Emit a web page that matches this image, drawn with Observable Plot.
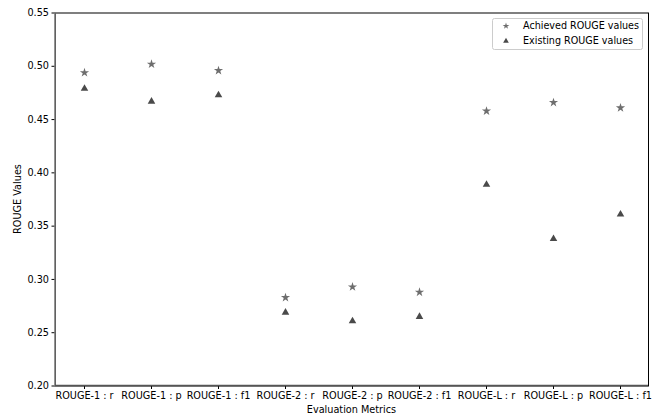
<!DOCTYPE html>
<html>
<head>
<meta charset="utf-8">
<script src="https://cdn.jsdelivr.net/npm/d3@7"></script>
<script src="https://cdn.jsdelivr.net/npm/@observablehq/plot@0.6"></script>
<style>
  html, body { margin: 0; padding: 0; background: white; }
  #chart { width: 652px; height: 417px; }
</style>
</head>
<body>
<div id="chart"></div>
<script>
const categories = ["ROUGE-1 : r", "ROUGE-1 : p", "ROUGE-1 : f1", "ROUGE-2 : r", "ROUGE-2 : p", "ROUGE-2 : f1", "ROUGE-L : r", "ROUGE-L : p", "ROUGE-L : f1"];
const achieved = [0.494, 0.502, 0.496, 0.283, 0.293, 0.288, 0.458, 0.466, 0.461];
const existing = [0.479, 0.467, 0.473, 0.269, 0.261, 0.265, 0.389, 0.338, 0.361];
const yTicks = [0.20, 0.25, 0.30, 0.35, 0.40, 0.45, 0.50, 0.55];
const seriesNames = ["Achieved ROUGE values", "Existing ROUGE values"];
const xLabel = "Evaluation Metrics";
const yLabel = "ROUGE Values";

const achievedData = categories.map((c, i) => ({metric: c, value: achieved[i]}));
const existingData = categories.map((c, i) => ({metric: c, value: existing[i]}));

const starColor = "#6e6e6e";
const triColor = "#4a4a4a";
const fs = 9.7;

const chart = Plot.plot({
  width: 652,
  height: 417,
  marginLeft: 55,
  marginRight: 4,
  marginTop: 12.5,
  marginBottom: 31.5,
  style: {fontFamily: "DejaVu Sans", fontSize: fs + "px", background: "white", color: "black"},
  x: {type: "point", domain: categories, padding: 0.4, label: null},
  y: {domain: [0.2, 0.55], label: null},
  marks: [
    Plot.frame({stroke: "black", strokeWidth: 1}),
    Plot.axisX({tickSize: 3.5, tickPadding: 2.5, label: null, fontSize: fs}),
    Plot.axisY({ticks: yTicks, tickFormat: d3.format(".2f"), tickSize: 3.5, tickPadding: 3, label: null, fontSize: fs}),
    Plot.dot(achievedData, {x: "metric", y: "value", symbol: "star", fill: starColor, r: 2.9}),
    Plot.dot(existingData, {x: "metric", y: "value", symbol: "triangle", fill: triColor, r: 2.8})
  ]
});

document.getElementById("chart").appendChild(chart);

const svg = d3.select(chart);
// left & bottom spines appear gray in the reference
svg.append("line").attr("x1", 55).attr("x2", 55).attr("y1", 12.5).attr("y2", 385.5)
  .attr("stroke", "#7a7a7a").attr("stroke-width", 1.6);
svg.append("line").attr("x1", 55).attr("x2", 648).attr("y1", 385.5).attr("y2", 385.5)
  .attr("stroke", "#555555").attr("stroke-width", 1.4);

// axis titles
svg.append("text")
  .attr("x", 351.5).attr("y", 413)
  .attr("text-anchor", "middle")
  .attr("font-family", "DejaVu Sans").attr("font-size", fs)
  .text(xLabel);
svg.append("text")
  .attr("transform", "translate(20.5,199) rotate(-90)")
  .attr("text-anchor", "middle")
  .attr("font-family", "DejaVu Sans").attr("font-size", fs)
  .text(yLabel);

// legend
const lg = svg.append("g");
lg.append("rect")
  .attr("x", 492.5).attr("y", 18.5).attr("width", 150).attr("height", 31)
  .attr("rx", 2).attr("fill", "white").attr("stroke", "#cccccc");
const syms = [d3.symbolStar, d3.symbolTriangle];
const cols = [starColor, triColor];
seriesNames.forEach((name, i) => {
  const cy = 25.5 + i * 15;
  lg.append("path")
    .attr("transform", `translate(506,${cy + 0.5})`)
    .attr("d", d3.symbol(syms[i], 14)())
    .attr("fill", cols[i]);
  lg.append("text")
    .attr("x", 523).attr("y", cy).attr("dy", "0.35em")
    .attr("text-anchor", "start")
    .attr("font-family", "DejaVu Sans").attr("font-size", 9.6)
    .text(name);
});
</script>
</body>
</html>
